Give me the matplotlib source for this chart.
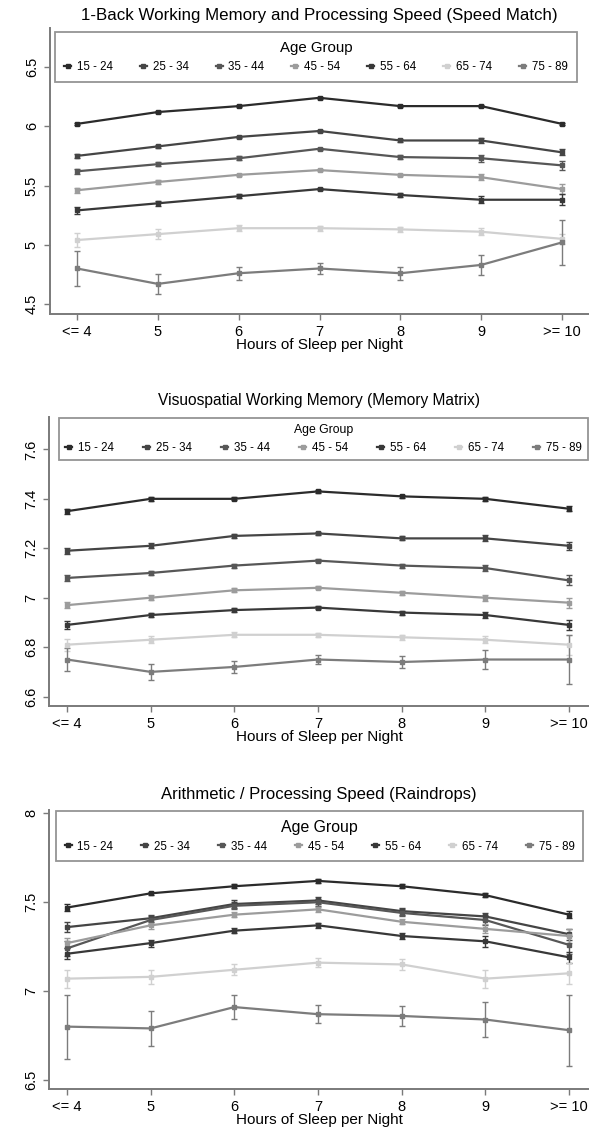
import matplotlib.pyplot as plt
from matplotlib.lines import Line2D
import numpy as np

plt.rcParams['font.family'] = ['Liberation Sans', 'DejaVu Sans']

# Hours of sleep categories and age groups
hours = ["<= 4", "5", "6", "7", "8", "9", ">= 10"]
groups = ["15 - 24", "25 - 34", "35 - 44", "45 - 54", "55 - 64", "65 - 74", "75 - 89"]
colors = ["#2b2b2b", "#454545", "#575757", "#9c9c9c", "#383838", "#d0d0d0", "#7c7c7c"]

# Speed Match: mean score and CI half-width per age group
speed_mean = [
    [6.02, 6.12, 6.17, 6.24, 6.17, 6.17, 6.02],
    [5.75, 5.83, 5.91, 5.96, 5.88, 5.88, 5.78],
    [5.62, 5.68, 5.73, 5.81, 5.74, 5.73, 5.67],
    [5.46, 5.53, 5.59, 5.63, 5.59, 5.57, 5.47],
    [5.29, 5.35, 5.41, 5.47, 5.42, 5.38, 5.38],
    [5.04, 5.09, 5.14, 5.14, 5.13, 5.11, 5.05],
    [4.80, 4.67, 4.76, 4.80, 4.76, 4.83, 5.02],
]
speed_err = [
    [0.01, 0.01, 0.01, 0.01, 0.01, 0.01, 0.01],
    [0.02, 0.015, 0.01, 0.01, 0.015, 0.02, 0.025],
    [0.02, 0.015, 0.015, 0.01, 0.015, 0.03, 0.04],
    [0.02, 0.015, 0.01, 0.01, 0.01, 0.025, 0.045],
    [0.03, 0.02, 0.015, 0.01, 0.015, 0.03, 0.045],
    [0.06, 0.04, 0.025, 0.02, 0.02, 0.03, 0.04],
    [0.145, 0.085, 0.055, 0.045, 0.053, 0.088, 0.19],
]

# Memory Matrix
matrix_mean = [
    [7.35, 7.40, 7.40, 7.43, 7.41, 7.40, 7.36],
    [7.19, 7.21, 7.25, 7.26, 7.24, 7.24, 7.21],
    [7.08, 7.10, 7.13, 7.15, 7.13, 7.12, 7.07],
    [6.97, 7.00, 7.03, 7.04, 7.02, 7.00, 6.98],
    [6.89, 6.93, 6.95, 6.96, 6.94, 6.93, 6.89],
    [6.81, 6.83, 6.85, 6.85, 6.84, 6.83, 6.81],
    [6.75, 6.70, 6.72, 6.75, 6.74, 6.75, 6.75],
]
matrix_err = [
    [0.01, 0.008, 0.006, 0.005, 0.006, 0.008, 0.01],
    [0.012, 0.01, 0.008, 0.006, 0.008, 0.012, 0.015],
    [0.012, 0.01, 0.008, 0.006, 0.008, 0.012, 0.02],
    [0.012, 0.01, 0.008, 0.006, 0.008, 0.012, 0.02],
    [0.015, 0.01, 0.008, 0.006, 0.008, 0.012, 0.02],
    [0.025, 0.015, 0.01, 0.008, 0.01, 0.015, 0.04],
    [0.046, 0.032, 0.026, 0.018, 0.025, 0.038, 0.098],
]

# Raindrops
rain_mean = [
    [7.47, 7.55, 7.59, 7.62, 7.59, 7.54, 7.43],
    [7.36, 7.41, 7.49, 7.51, 7.45, 7.42, 7.32],
    [7.24, 7.40, 7.48, 7.50, 7.44, 7.40, 7.26],
    [7.27, 7.37, 7.43, 7.46, 7.39, 7.35, 7.31],
    [7.21, 7.27, 7.34, 7.37, 7.31, 7.28, 7.19],
    [7.07, 7.08, 7.12, 7.16, 7.15, 7.07, 7.10],
    [6.80, 6.79, 6.91, 6.87, 6.86, 6.84, 6.78],
]
rain_err = [
    [0.02, 0.01, 0.01, 0.01, 0.01, 0.01, 0.02],
    [0.03, 0.02, 0.02, 0.02, 0.02, 0.02, 0.03],
    [0.04, 0.02, 0.02, 0.02, 0.02, 0.03, 0.05],
    [0.03, 0.02, 0.015, 0.015, 0.015, 0.025, 0.04],
    [0.03, 0.02, 0.015, 0.015, 0.015, 0.03, 0.03],
    [0.05, 0.04, 0.03, 0.025, 0.03, 0.05, 0.06],
    [0.18, 0.10, 0.068, 0.05, 0.058, 0.098, 0.20],
]

W, H = 589, 1132
fig = plt.figure(figsize=(W / 100, H / 100), dpi=100)
axis_gray = "#7a7a7a"


def px_axes(left, right, top, bottom):
    return fig.add_axes([left / W, 1 - bottom / H, (right - left) / W, (bottom - top) / H])


def panel(ax, title, means, errs, ylim, yticks, ytl, xlim, leg_box, title_size, title_pad,
          leg_title_size, leg_size, leg_pad):
    x = np.arange(len(hours))
    handles = []
    for g, c, m, e in zip(groups, colors, means, errs):
        ax.errorbar(x, m, yerr=e, fmt="none", ecolor=c, elinewidth=1.0, capsize=2.2, capthick=1.0, zorder=2)
        ax.plot(x, m, color=c, lw=1.6, marker="s", ms=2.6, zorder=3)
        handles.append(Line2D([], [], color=c, lw=1.6, marker="s", ms=2.6))
    ax.set_xlim(*xlim)
    ax.set_ylim(*ylim)
    ax.set_xticks(x)
    ax.set_xticklabels(hours, fontsize=10.5)
    ax.set_yticks(yticks)
    ax.set_yticklabels(ytl, fontsize=10.5, rotation=90, va="center")
    ax.set_xlabel("Hours of Sleep per Night", fontsize=11, labelpad=-1)
    ax.set_title(title, fontsize=title_size, pad=title_pad)
    for s in ["top", "right"]:
        ax.spines[s].set_visible(False)
    for s in ["left", "bottom"]:
        ax.spines[s].set_color(axis_gray)
        ax.spines[s].set_linewidth(1.4)
    ax.tick_params(color=axis_gray, length=4, width=1.0, pad=4)
    leg = ax.legend(handles, groups, title="Age Group", ncol=7, mode="expand",
                    bbox_to_anchor=leg_box, loc="upper left", fontsize=leg_size,
                    title_fontsize=leg_title_size, handlelength=0.6, handletextpad=0.5,
                    columnspacing=0.4, borderpad=leg_pad, frameon=True, fancybox=False,
                    borderaxespad=0)
    leg.get_frame().set_edgecolor(axis_gray)
    leg.get_frame().set_linewidth(1.3)


ax1 = px_axes(50, 589, 28, 314)
panel(ax1, "1-Back Working Memory and Processing Speed (Speed Match)", speed_mean, speed_err,
      (4.416, 6.829), [4.5, 5, 5.5, 6, 6.5], ["4.5", "5", "5.5", "6", "6.5"],
      (-0.334, 6.334), (0.009, 0.986, 0.969, 0.0), 12.2, 6, 10.8, 8.3, 0.8)

ax2 = px_axes(49, 589, 417, 706)
panel(ax2, "Visuospatial Working Memory (Memory Matrix)", matrix_mean, matrix_err,
      (6.562, 7.731), [6.6, 6.8, 7.0, 7.2, 7.4, 7.6], ["6.6", "6.8", "7", "7.2", "7.4", "7.6"],
      (-0.215, 6.239), (0.0185, 0.997, 0.98, 0.0), 11.2, 9, 8.8, 8.3, 0.55)

ax3 = px_axes(49, 589, 810, 1089)
panel(ax3, "Arithmetic / Processing Speed (Raindrops)", rain_mean, rain_err,
      (6.449, 8.019), [6.5, 7, 7.5, 8], ["6.5", "7", "7.5", "8"],
      (-0.215, 6.239), (0.013, 0.996, 0.976, 0.0), 12, 8, 11.4, 8.3, 0.75)

fig.savefig("out.png", dpi=100)
